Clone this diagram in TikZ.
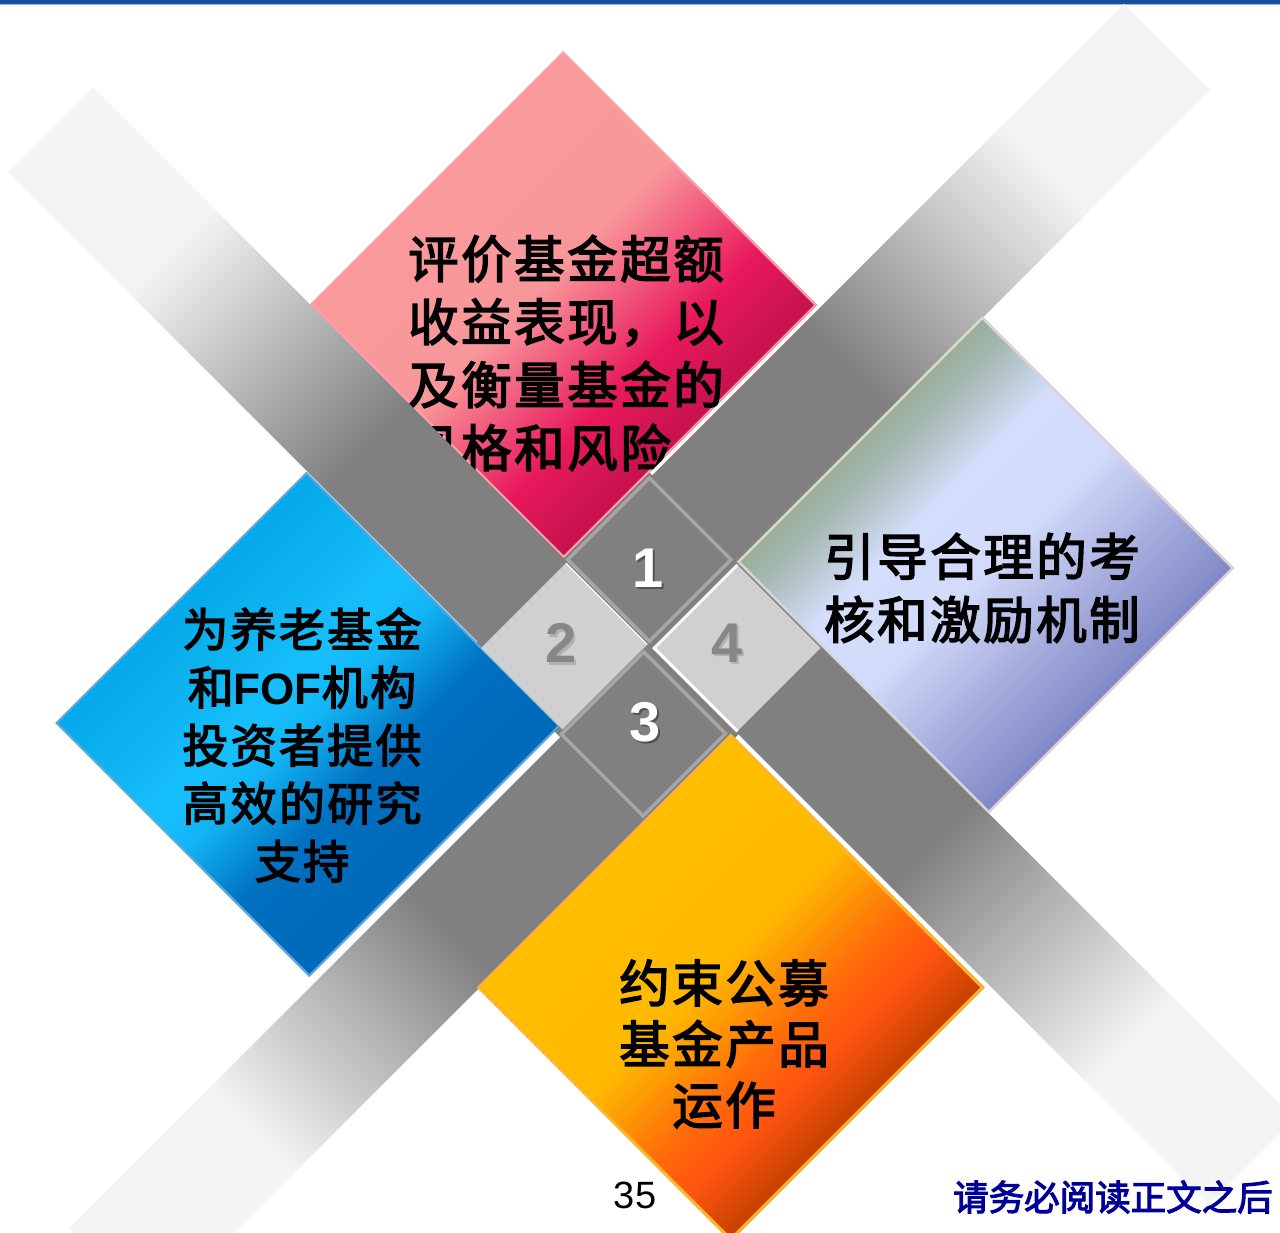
\documentclass[tikz,border=0pt]{standalone}
\usepackage{fontspec}
\newfontfamily\cjk[FakeBold=3, LetterSpace=5]{Noto Sans CJK SC}
\newfontfamily\cjkfoot[FakeBold=3]{Noto Sans CJK SC}
\newfontfamily\arialf{Liberation Sans}

% palette
\definecolor{ruledark}{HTML}{1A4F99}
\definecolor{rulelight}{HTML}{8DB8E8}
\definecolor{bandgray}{HTML}{808080}
\definecolor{bandlight}{HTML}{F4F4F4}
\definecolor{sqdark}{HTML}{808080}
\definecolor{sqedge}{HTML}{A6A6A6}
\definecolor{sqlight}{HTML}{D0D0D0}
\definecolor{digitgray}{HTML}{878787}
\definecolor{footblue}{HTML}{000099}
\definecolor{pinkedge}{HTML}{F7A2A8}
\definecolor{blueedge}{HTML}{5AA6DE}
\definecolor{lavedge}{HTML}{D6D6D6}
\definecolor{orangeedge}{HTML}{FFB52A}

\definecolor{pkA}{HTML}{FA9A9D}
\definecolor{pkB}{HTML}{F8979A}
\definecolor{pkC}{HTML}{F05078}
\definecolor{pkD}{HTML}{E8185C}
\definecolor{pkE}{HTML}{C4124E}

\definecolor{blA}{HTML}{05A8E8}
\definecolor{blB}{HTML}{17C0FC}
\definecolor{blC}{HTML}{12B5F5}
\definecolor{blD}{HTML}{0070C0}
\definecolor{blE}{HTML}{0068B8}

\definecolor{lvA}{HTML}{98AE98}
\definecolor{lvB}{HTML}{A8BAB4}
\definecolor{lvC}{HTML}{D4DEFC}
\definecolor{lvD}{HTML}{D2DCFA}
\definecolor{lvE}{HTML}{A4AADC}
\definecolor{lvF}{HTML}{8088C4}

\definecolor{orA}{HTML}{FFC000}
\definecolor{orB}{HTML}{FFB800}
\definecolor{orC}{HTML}{FF6A0A}
\definecolor{orD}{HTML}{FF5510}
\definecolor{orE}{HTML}{C44000}

% gradients across each diamond (bbox maps to 25bp..75bp)
\pgfdeclarehorizontalshading{pinkgrad}{100bp}{color(0bp)=(pkA); color(25bp)=(pkA); color(46bp)=(pkB); color(56bp)=(pkC); color(64bp)=(pkD); color(75bp)=(pkE); color(100bp)=(pkE)}
\pgfdeclarehorizontalshading{bluegrad}{100bp}{color(0bp)=(blA); color(25bp)=(blA); color(45bp)=(blB); color(50bp)=(blC); color(61bp)=(blD); color(75bp)=(blE); color(100bp)=(blE)}
\pgfdeclarehorizontalshading{lavgrad}{100bp}{color(0bp)=(lvA); color(25bp)=(lvA); color(30bp)=(lvB); color(39bp)=(lvC); color(50bp)=(lvD); color(64bp)=(lvE); color(75bp)=(lvF); color(100bp)=(lvF)}
\pgfdeclarehorizontalshading{orangegrad}{100bp}{color(0bp)=(orA); color(25bp)=(orA); color(47bp)=(orB); color(60bp)=(orC); color(66bp)=(orD); color(75bp)=(orE); color(100bp)=(orE)}

\tikzset{
  bigtext/.style={font=\cjk\fontsize{50.5}{63}\selectfont, inner sep=0pt, text=black},
  bluetext/.style={font=\cjk\fontsize{46}{58}\selectfont, inner sep=0pt, text=black, align=center},
  digitw/.style={font=\arialf\bfseries\fontsize{56}{60}\selectfont, inner sep=0pt, text=white},
  digitg/.style={font=\arialf\bfseries\fontsize{56}{60}\selectfont, inner sep=0pt, text=digitgray},
  digitshadow/.style={font=\arialf\bfseries\fontsize{56}{60}\selectfont, inner sep=0pt, text=black, opacity=0.35},
  pagenum/.style={font=\arialf\fontsize{38}{40}\selectfont, inner sep=0pt, text=black},
  disclaimer/.style={font=\cjkfoot\fontsize{35.5}{40}\selectfont, inner sep=0pt, text=footblue},
}

\begin{document}
\begin{tikzpicture}[x=1pt,y=-1pt]
\useasboundingbox (0,0) rectangle (1280,1233);
\fill[white] (0,0) rectangle (1280,1233);

% header rule
\fill[ruledark] (0,0) rectangle (1280,3.6);
\fill[rulelight] (0,3.6) rectangle (1280,5.2);

% everything below is laid out on a grid turned by 45 degrees
\begin{scope}[transform canvas={shift={(648,648)},rotate=-45}]
  % upper-left arm
  \fill[bandlight] (-789,-4) rectangle (-619,116);
  \shade[left color=bandlight,right color=bandgray] (-620,-4) rectangle (-339,116);
  \fill[bandgray] (-340,-4) rectangle (-40,116);
  % upper-right arm
  \fill[bandlight] (-119,-792) rectangle (3,-619);
  \shade[top color=bandlight,bottom color=bandgray] (-119,-620) rectangle (3,-339);
  \fill[bandgray] (-119,-340) rectangle (3,-40);
  % lower-right arm
  \fill[bandgray] (40,-124) rectangle (341,-3);
  \shade[left color=bandgray,right color=bandlight] (340,-124) rectangle (621,-3);
  \fill[bandlight] (620,-124) rectangle (790,-3);
  % lower-left arm
  \fill[bandgray] (1,40) rectangle (121,341);
  \shade[top color=bandgray,bottom color=bandlight] (1,340) rectangle (121,621);
  \fill[bandlight] (1,620) rectangle (121,820);
  % hub
  \fill[bandgray] (-125,-125) rectangle (125,125);

  % four coloured diamonds
  \shade[shading=pinkgrad] (-482,-362) rectangle (-123,-4);
  \draw[pinkedge, line width=2] (-481,-361) rectangle (-124,-5);
  \shade[shading=bluegrad] (-366,117) rectangle (-7,472);
  \draw[blueedge, line width=2] (-365,118) rectangle (-8,471);
  \shade[shading=lavgrad] (2,-471) rectangle (358,-124);
  \draw[lavedge, line width=2.5] (3,-470) rectangle (357,-125);
  \shade[shading=orangegrad] (119,2) rectangle (478,361);
  \draw[orangeedge, line width=3] (120.5,3.5) rectangle (476.5,359.5);

  % centre squares
  \fill[sqdark] (-121,-123) rectangle (-2,-4);
  \draw[sqedge, line width=3.5] (-119.25,-121.25) rectangle (-3.75,-5.75);
  \fill[sqlight] (-118,-2) rectangle (-3,118);
  \draw[white, line width=1.2] (-118,-2) -- (-3,-2);
  \fill[sqlight] (3,-122) rectangle (122,-3);
  \draw[white!88!sqlight, line width=3] (4.5,-122) -- (4.5,-4.5);
  \draw[white, line width=3] (3,-4.5) -- (122,-4.5);
  \fill[sqdark] (-2,4) rectangle (117,124);
  \draw[sqedge, line width=3.5] (-0.25,5.75) rectangle (115.25,122.25);
\end{scope}

% square numbers
\node[digitshadow] (n1s) at (650.5,570.5) {1};
\node[digitw] (n1) at (648,568) {1};
\node[digitshadow, opacity=0.15] (n2s) at (563.5,645.5) {2};
\node[digitg] (n2) at (561,643) {2};
\node[digitshadow] (n3s) at (647.5,724.5) {3};
\node[digitw] (n3) at (645,722) {3};
\node[digitshadow, opacity=0.15] (n4s) at (729.5,645.5) {4};
\node[digitg] (n4) at (727,643) {4};

% diamond texts
\begin{scope}
  \clip[shift={(648,648)}, rotate=-45] (-482,-362) rectangle (-123,-4);
  \node[bigtext, align=left] (tpink) at (566,353)
    {评价基金超额\\收益表现，以\\及衡量基金的\\风格和风险};
\end{scope}
\node[bluetext] (tblue) at (302,745)
  {为养老基金\\和{\arialf\bfseries\fontsize{44}{58}\selectfont FOF}机构\\投资者提供\\高效的研究\\支持};
\node[bigtext, align=center] (tlav) at (982,588)
  {引导合理的考\\核和激励机制};
\node[bigtext, align=center, font=\cjk\fontsize{50.5}{61}\selectfont] (torange) at (724,1044)
  {约束公募\\基金产品\\运作};

% footer
\node[pagenum] (page) at (635,1195) {35};
\node[disclaimer, anchor=west] (note) at (953,1197) {请务必阅读正文之后};
\end{tikzpicture}
\end{document}
